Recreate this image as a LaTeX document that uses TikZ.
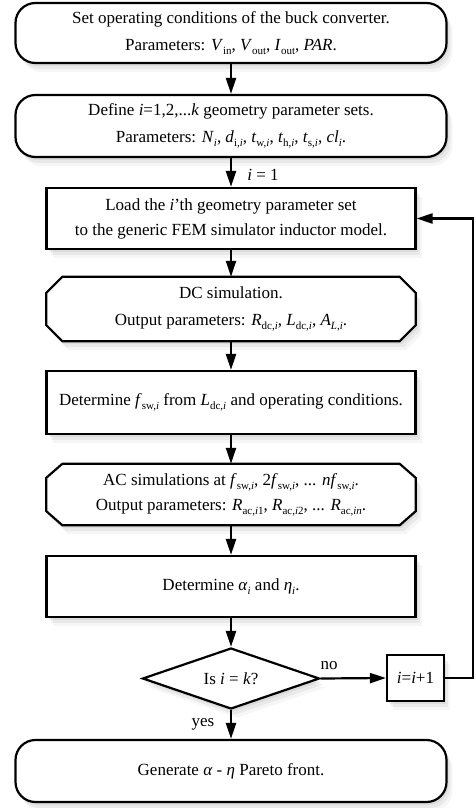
\documentclass[tikz,border=0pt]{standalone}
\usepackage{fontspec}
\setmainfont{Liberation Serif}
\usetikzlibrary{shapes.geometric,arrows.meta,shadows}
\pgfdeclarelayer{bg}
\pgfdeclarelayer{paper}
\pgfsetlayers{paper,bg,main}
\newcommand\lo[1]{\raisebox{-0.25em}{\fontsize{11}{11}\selectfont #1}}
\newcommand\va[1]{\textit{#1}}
\begin{document}
\begin{tikzpicture}[x=1pt,y=-1pt,
  every node/.style={font=\fontsize{17}{27}\selectfont},
  shad/.style={drop shadow={shadow xshift=2pt,shadow yshift=-3pt,opacity=0.12},
               drop shadow={shadow xshift=4pt,shadow yshift=-6pt,opacity=0.10},
               drop shadow={shadow xshift=6pt,shadow yshift=-9pt,opacity=0.07}},
  border/.style={draw,line width=2.2pt,fill=white,shad},
  roundbox/.style={border,rounded corners=20pt,
    minimum width=431pt,align=center,inner sep=0pt},
  rectbox/.style={border,
    minimum width=369pt,align=center,inner sep=0pt},
  chambox/.style={minimum width=369pt,align=center,inner sep=0pt},
  arr/.style={line width=2.2pt,-{Triangle[length=16pt,width=10pt]}},
  lbl/.style={inner sep=0pt}]
\useasboundingbox (0,0) rectangle (475,808);
\begin{pgfonlayer}{paper}
\fill[white] (0,0) rectangle (475,808);
\end{pgfonlayer}

\node[roundbox,minimum height=60pt] (b1) at (231,33)
  {Set operating conditions of the buck converter.\\
   Parameters: \va{V}\lo{in}, \va{V}\lo{out}, \va{I}\lo{out}, \va{PAR}.};
\node[roundbox,minimum height=62pt] (b2) at (231,126)
  {Define \va{i}=1,2,...\va{k} geometry parameter sets.\\
   Parameters: \va{N}\lo{\va{i}}, \va{d}\lo{i,\va{i}}, \va{t}\lo{w,\va{i}}, \va{t}\lo{h,\va{i}}, \va{t}\lo{s,\va{i}}, \va{cl}\lo{\va{i}}.};
\node[rectbox,minimum height=61pt,font=\fontsize{17}{25}\selectfont] (b3) at (231,218.5)
  {Load the \va{i}’th geometry parameter set\\
   to the generic FEM simulator inductor model.};
\node[chambox,minimum height=64pt] (b4) at (231,309)
  {DC simulation.\\
   Output parameters: \va{R}\lo{dc,\va{i}}, \va{L}\lo{dc,\va{i}}, \va{A}\lo{\va{L},\va{i}}.};
\node[rectbox,minimum height=63pt] (b5) at (231,402.5)
  {Determine \va{f}\lo{sw,\va{i}} from \va{L}\lo{dc,\va{i}} and operating conditions.};
\node[chambox,minimum height=61pt,font=\fontsize{17}{25}\selectfont] (b6) at (231,494.5)
  {AC simulations at \va{f}\lo{sw,\va{i}}, 2\va{f}\lo{sw,\va{i}}, ... \va{nf}\lo{sw,\va{i}}.\\
   Output parameters: \va{R}\lo{ac,\va{i}1}, \va{R}\lo{ac,\va{i}2}, ... \va{R}\lo{ac,\va{in}}.};
\node[rectbox,minimum height=61pt] (b7) at (231,586.5)
  {Determine \va{α}\lo{\va{i}} and \va{η}\lo{\va{i}}.};
\node[border,diamond,aspect=2.9,inner sep=0pt,
  minimum width=177pt,minimum height=61pt] (d) at (231,678.5) {Is \va{i} = \va{k}?};
\node[border,minimum width=57pt,minimum height=46pt,
  inner sep=0pt] (inc) at (415.5,678) {\va{i}=\va{i}+1};
\node[roundbox,minimum height=62pt] (b8) at (231,771)
  {Generate \va{α} - \va{η} Pareto front.};

\begin{pgfonlayer}{bg}
\foreach \n/\cy in {b4/16,b6/14}{
  \draw[border,line join=miter]
    ([xshift=16pt]\n.north west) -- ([xshift=-16pt]\n.north east)
    -- ([yshift=-\cy pt]\n.north east) -- ([yshift=\cy pt]\n.south east)
    -- ([xshift=-16pt]\n.south east) -- ([xshift=16pt]\n.south west)
    -- ([yshift=\cy pt]\n.south west) -- ([yshift=-\cy pt]\n.north west) -- cycle;
}
\end{pgfonlayer}

\draw[arr] (b1) -- (b2);
\draw[arr] (b2) -- (b3);
\draw[arr] (b3) -- (b4);
\draw[arr] (b4) -- (b5);
\draw[arr] (b5) -- (b6);
\draw[arr] (b6) -- (b7);
\draw[arr] (b7) -- (d);
\draw[arr] (d) -- (b8);
\draw[arr] (d.east) -- (inc.west);
\coordinate (ret) at (473,678);
\draw[arr] (inc.east) -- (ret) |- (b3.east);

\node[lbl] (l1) at (263,175) {\va{i} = 1};
\node[lbl] (lno) at (329,666) {no};
\node[lbl] (lyes) at (203,724) {yes};
\end{tikzpicture}
\end{document}
